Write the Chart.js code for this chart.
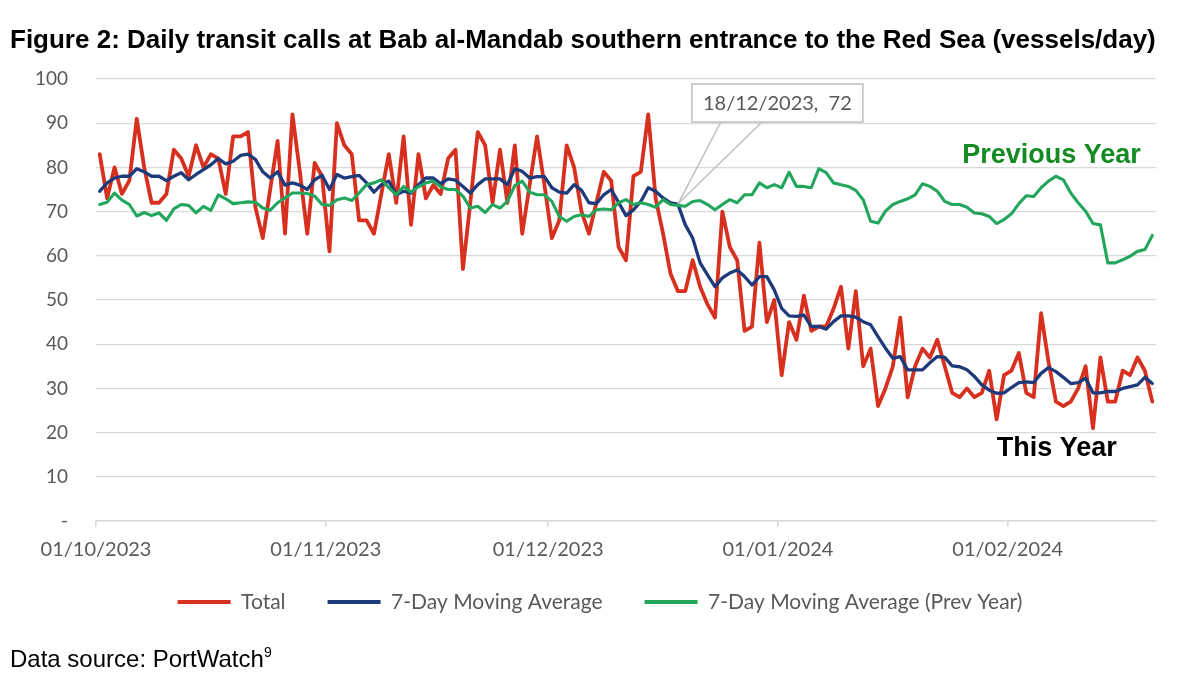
<!DOCTYPE html>
<html><head><meta charset="utf-8">
<script src="https://cdn.jsdelivr.net/npm/chart.js@4.4.1/dist/chart.umd.min.js"></script>
<style>
html,body{margin:0;padding:0;background:#fff;}
#wrap{position:relative;width:1200px;height:689px;overflow:hidden;background:#fff;}
#title{position:absolute;left:10px;top:24px;font:bold 26px "Liberation Sans",Arial,sans-serif;color:#000;white-space:nowrap;}
#src{position:absolute;left:10px;top:644px;font:24px "Liberation Sans",Arial,sans-serif;color:#000;white-space:nowrap;}
#src sup{font-size:14px;vertical-align:10px;}
canvas{position:absolute;left:0;top:0;}
</style></head>
<body><div id="wrap">
<canvas id="c" width="1200" height="689"></canvas>
<div id="title">Figure 2: Daily transit calls at Bab al-Mandab southern entrance to the Red Sea (vessels/day)</div>
<div id="src">Data source: PortWatch<sup>9</sup></div>
</div>
<script>
// Daily values from 01/10/2023 (day 0) to 20/02/2024 (day 142)
const total = [
 83,73,80,74,77,91,80,72,72,74, 84,82,78,85,80,83,82,74,87,87,
 88,71,64,75,86,65,92,79,65,81, 78,61,90,85,83,68,68,65,74,83,
 72,87,67,83,73,76,74,82,84,57, 72,88,85,72,84,72,85,65,76,87,
 76,64,68,85,80,70,65,72,79,77, 62,59,78,79,92,73,65,56,52,52,
 59,53,49,46,70,62,59,43,44,63, 45,50,33,45,41,51,43,44,44,48,
 53,39,52,35,39,26,30,35,46,28, 35,39,37,41,35,29,28,30,28,29,
 34,23,33,34,38,29,28,47,36,27, 26,27,30,35,21,37,27,27,34,33,
 37,34,27
];
const movingAvg = [
 74.6,76.5,77.6,78.0,78.0,79.7,79.0,78.0,78.0,77.0, 78.0,78.8,77.2,78.4,79.5,80.6,82.0,80.8,81.4,82.7,
 83.0,81.8,79.0,77.6,79.0,76.0,76.5,76.0,75.0,77.2, 78.2,75.0,78.4,77.6,77.9,78.2,76.5,74.4,76.1,76.9,
 73.8,74.6,74.2,76.1,77.6,77.6,76.3,77.4,77.1,75.7, 74.2,76.1,77.4,77.4,77.4,76.1,79.7,79.1,77.6,77.9,
 77.9,75.4,74.4,74.2,76.1,74.8,72.0,71.8,73.8,75.0, 72.1,69.1,70.4,72.3,75.4,74.6,73.1,72.0,71.7,67.0,
 64.0,58.4,55.7,53.0,55.0,56.1,56.8,55.3,53.4,55.3, 55.3,52.3,48.1,46.4,46.3,46.6,44.0,44.0,43.4,45.1,
 46.4,46.4,46.1,45.1,44.4,41.7,39.1,36.8,37.2,34.2, 34.2,34.2,35.8,37.2,37.0,35.1,34.9,34.2,32.7,30.8,
 29.6,28.9,29.0,30.2,31.3,31.5,31.3,33.4,34.7,33.8, 32.5,31.1,31.3,32.3,29.0,29.0,29.3,29.3,30.0,30.4,
 30.8,32.5,31.1
];
const prevYearAvg = [
 71.6,72.1,74.2,72.6,71.6,69.0,69.8,69.1,69.7,68.0, 70.6,71.6,71.4,69.7,71.2,70.3,73.8,72.9,71.8,72.0,
 72.2,72.1,70.8,70.3,72.0,73.1,74.2,74.2,74.1,73.5, 71.6,71.4,72.7,73.1,72.5,74.2,76.1,76.5,77.2,75.4,
 73.8,75.7,74.4,75.6,76.5,76.9,75.6,75.0,75.0,73.5, 70.8,71.2,69.8,71.6,70.8,72.3,75.9,76.9,74.4,73.8,
 73.8,72.3,68.9,67.8,68.9,69.3,68.9,70.4,70.6,70.4, 72.0,72.7,71.6,72.0,71.6,71.0,72.7,71.6,71.4,71.2,
 72.3,72.5,71.6,70.4,71.6,72.7,72.0,73.8,73.8,76.5, 75.4,76.1,75.4,78.9,75.7,75.7,75.4,79.7,78.8,76.5,
 76.1,75.7,74.8,72.7,67.8,67.4,70.1,71.6,72.3,72.9, 73.8,76.3,75.7,74.6,72.3,71.6,71.6,71.0,69.7,69.5,
 68.9,67.3,68.2,69.5,71.8,73.6,73.4,75.4,76.9,78.0, 77.2,74.2,72.0,70.1,67.3,67.0,58.4,58.4,59.1,59.9,
 61.0,61.4,64.6
];
const seriesNames = ['Total', '7-Day Moving Average', '7-Day Moving Average (Prev Year)'];
const monthTickDays = [0, 31, 61, 92, 123];
const monthTickLabels = ['01/10/2023', '01/11/2023', '01/12/2023', '01/01/2024', '01/02/2024'];
const yTicks = [0, 10, 20, 30, 40, 50, 60, 70, 80, 90, 100];
const calloutDay = 78;
const calloutDate = '18/12/2023';
const notes = [
  {text: 'Previous Year', day: 128.4, value: 82.7, color: '#138A22'},
  {text: 'This Year', day: 129.1, value: 16.5, color: '#000000'}
];

const COLORS = ['#D7301F', '#1D3A7A', '#21A65B'];
const WIDTHS = [3.8, 3.3, 3.1];
const FAMILY = 'Lato, "Open Sans", sans-serif';
const GREY = '#595959';

function mk(i, arr) {
  return {
    label: seriesNames[i],
    data: arr.map((v, d) => ({x: d, y: v})),
    borderColor: COLORS[i], backgroundColor: COLORS[i],
    borderWidth: WIDTHS[i], pointRadius: 0, pointHoverRadius: 0,
    tension: 0, fill: false, borderJoinStyle: 'round', borderCapStyle: 'round',
    order: 3 - i
  };
}

const overlay = {
  id: 'overlay',
  afterDatasetsDraw(chart) {
    const {ctx, scales: {x, y}} = chart;
    ctx.save();
    const px = x.getPixelForValue(calloutDay);
    const val = movingAvg[calloutDay];
    const py = y.getPixelForValue(val);
    const bx = px + 14, by = chart.chartArea.top + 5, bw = 171, bh = 38;
    ctx.strokeStyle = '#BFBFBF';
    ctx.lineWidth = 1.5;
    ctx.beginPath();
    ctx.moveTo(bx + 29, by + bh); ctx.lineTo(px, py);
    ctx.moveTo(bx + 70, by + bh); ctx.lineTo(px, py);
    ctx.stroke();
    ctx.fillStyle = '#FFFFFF';
    ctx.fillRect(bx, by, bw, bh);
    ctx.strokeRect(bx, by, bw, bh);
    ctx.fillStyle = GREY;
    ctx.font = '20px ' + FAMILY;
    ctx.textAlign = 'center';
    ctx.textBaseline = 'middle';
    ctx.fillText(calloutDate + ',  ' + Math.round(val), bx + bw / 2, by + bh / 2 + 1);
    ctx.font = 'bold 27px "Liberation Sans", Arial, sans-serif';
    notes.forEach(n => {
      ctx.fillStyle = n.color;
      ctx.fillText(n.text, x.getPixelForValue(n.day), y.getPixelForValue(n.value));
    });
    ctx.restore();
  }
};

const noLabelClip = s => { s._computeLabelArea = () => undefined; };

new Chart(document.getElementById('c'), {
  type: 'line',
  data: {datasets: [mk(0, total), mk(1, movingAvg), mk(2, prevYearAvg)]},
  options: {
    responsive: false, animation: false,
    layout: {padding: {left: 44, right: 44, top: 79, bottom: 66.5}},
    plugins: {
      tooltip: {enabled: false},
      legend: {
        position: 'bottom',
        labels: {
          boxWidth: 53, boxHeight: 4, padding: 42, color: GREY, font: {family: FAMILY, size: 21},
          generateLabels(chart) {
            return chart.data.datasets.map((d, i) => ({
              text: d.label, fillStyle: d.borderColor, strokeStyle: d.borderColor,
              lineWidth: 0, hidden: false, datasetIndex: i, fontColor: GREY
            }));
          }
        }
      }
    },
    scales: {
      x: {
        type: 'linear', min: -0.5, max: 142.5,
        afterBuildTicks(s) { s.ticks = monthTickDays.map(d => ({value: d - 0.5})); },
        afterFit(s) { s.height = 28.5; noLabelClip(s); },
        ticks: {
          autoSkip: false, maxRotation: 0, color: GREY, font: {family: FAMILY, size: 20}, padding: 11,
          callback(v, i) { return monthTickLabels[i]; }
        },
        grid: {drawOnChartArea: false, drawTicks: true, tickLength: 6, color: '#D9D9D9', lineWidth: 1.5},
        border: {display: true, color: '#D9D9D9', width: 1.5}
      },
      y: {
        min: 0, max: 100,
        afterBuildTicks(s) { s.ticks = yTicks.map(v => ({value: v})); },
        afterFit(s) { s.width = 52; noLabelClip(s); },
        ticks: {
          color: GREY, font: {family: FAMILY, size: 19}, padding: 28,
          callback(v) { return v === 0 ? '-' : v; }
        },
        grid: {color: '#D9D9D9', lineWidth: 1.3, drawTicks: false},
        border: {display: false}
      }
    }
  },
  plugins: [overlay]
});
</script>
</body></html>
